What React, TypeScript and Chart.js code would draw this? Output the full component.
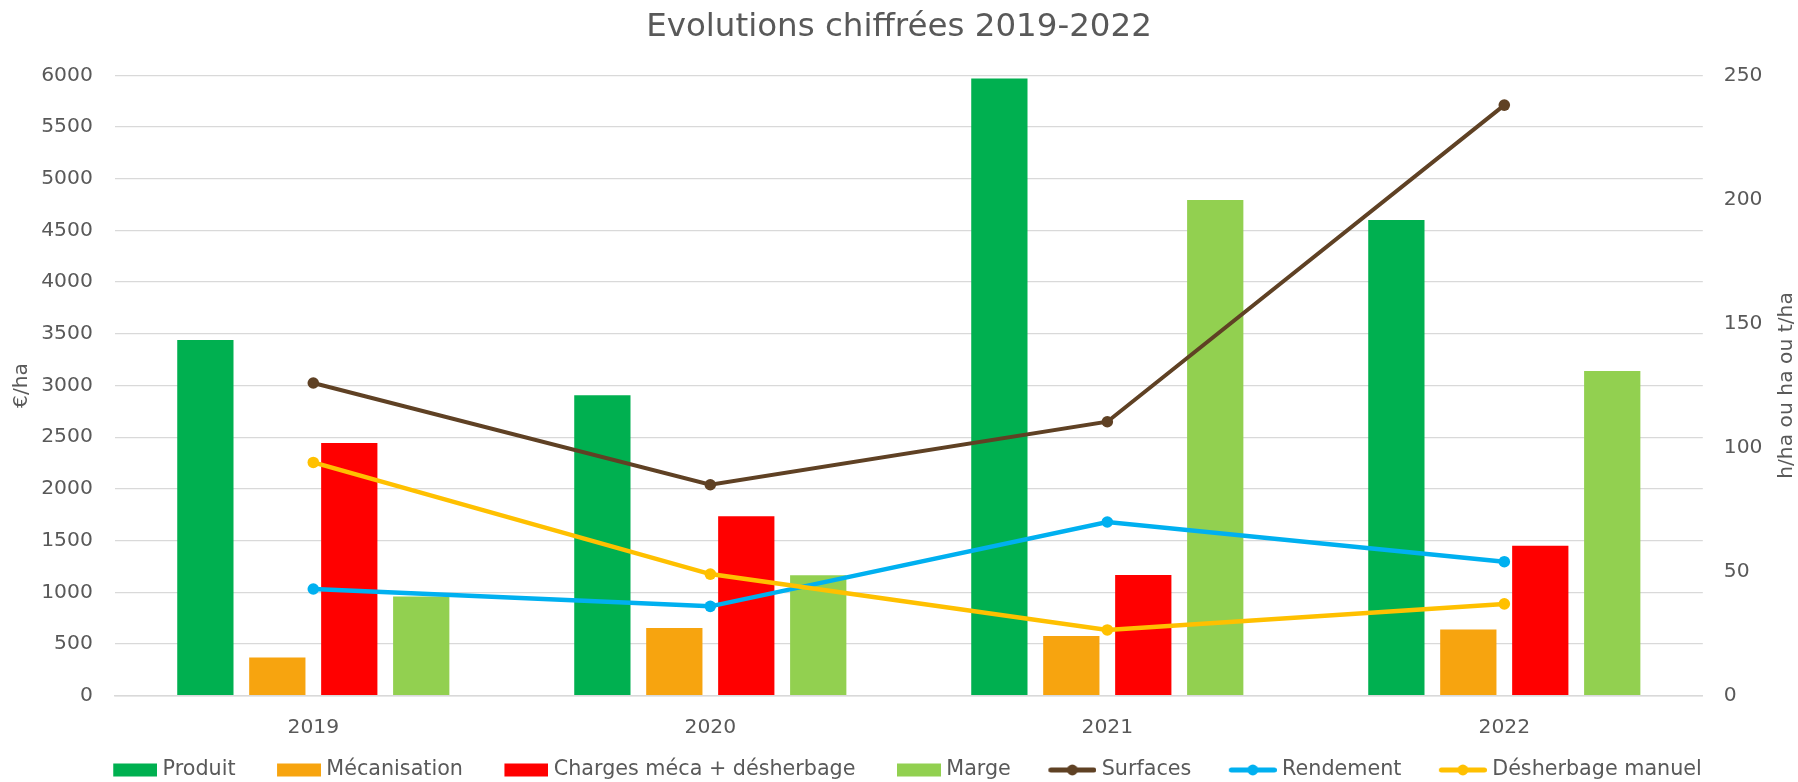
import React, { useEffect, useRef } from "react";
import { Chart, registerables } from "chart.js";

Chart.register(...registerables);

// ---- Data ----
const categories = ["2019", "2020", "2021", "2022"];
const produit = [3440, 2905, 5970, 4600];
const mecanisation = [370, 655, 577, 640];
const charges = [2445, 1735, 1168, 1450];
const marge = [960, 1165, 4795, 3140];
const surfaces = [126, 85, 110.4, 238];
const rendement = [43, 36, 70, 54];
const desherbage = [94, 49, 26.5, 37];

const leftAxis = { min: 0, max: 6000, step: 500 };
const rightAxis = { min: 0, max: 250, step: 50 };

const TITLE = "Evolutions chiffrées 2019-2022";
const LEFT_TITLE = "€/ha";
const RIGHT_TITLE = "h/ha ou ha ou t/ha";

const FONT = "'DejaVu Sans', Verdana, sans-serif";
const TEXT = "#595959";
const GRID = "#D9D9D9";
const FS = 20.3;
const LEG_FS = 20.7;

const barSeries = [
  { label: "Produit", data: produit, color: "#00B050" },
  { label: "Mécanisation", data: mecanisation, color: "#F7A40F" },
  { label: "Charges méca + désherbage", data: charges, color: "#FF0000" },
  { label: "Marge", data: marge, color: "#92D050" },
];
const lineSeries = [
  { label: "Surfaces", data: surfaces, color: "#5F4124", width: 4, order: 3 },
  { label: "Rendement", data: rendement, color: "#00B0F0", width: 4.5, order: 2 },
  { label: "Désherbage manuel", data: desherbage, color: "#FFC000", width: 4.5, order: 1 },
];

const LEG_BW = 56;
const LEG_E = 5;
const LEG_PAD = 24.5;

function makeSwatch(kind: "bar" | "line", color: string): HTMLCanvasElement {
  const c = document.createElement("canvas");
  const iw = LEG_BW + 2 * LEG_E;
  const ih = 20;
  c.width = iw;
  c.height = ih;
  const ctx = c.getContext("2d")!;
  if (kind === "bar") {
    ctx.fillStyle = color;
    ctx.fillRect(iw - 44, (ih - 13) / 2, 44, 13);
  } else {
    ctx.strokeStyle = color;
    ctx.lineWidth = 5;
    ctx.lineCap = "round";
    ctx.beginPath();
    ctx.moveTo(iw - 48 + 2.5, ih / 2);
    ctx.lineTo(iw - 2.5, ih / 2);
    ctx.stroke();
    ctx.fillStyle = color;
    ctx.beginPath();
    ctx.arc(iw - 24, ih / 2, 5.4, 0, Math.PI * 2);
    ctx.fill();
  }
  return c;
}

const rightTitlePlugin = {
  id: "rightTitle",
  afterDraw(chart: any) {
    const { ctx, chartArea } = chart;
    const s = chart.scales.y1;
    ctx.save();
    ctx.translate(s.right - 11.4, (chartArea.top + chartArea.bottom) / 2);
    ctx.rotate(-Math.PI / 2);
    ctx.font = `${FS}px ${FONT}`;
    ctx.fillStyle = TEXT;
    ctx.textAlign = "center";
    ctx.textBaseline = "middle";
    ctx.fillText(RIGHT_TITLE, 0, 0);
    ctx.restore();
  },
};

export default function App() {
  const ref = useRef<HTMLCanvasElement | null>(null);

  useEffect(() => {
    if (!ref.current) return;
    Chart.defaults.font.family = FONT;
    const swatches = [
      ...barSeries.map((b) => makeSwatch("bar", b.color)),
      ...lineSeries.map((l) => makeSwatch("line", l.color)),
    ];
    const datasets: any[] = [
      ...barSeries.map((b) => ({
        type: "bar",
        label: b.label,
        data: b.data,
        backgroundColor: b.color,
        borderWidth: 0,
        yAxisID: "y",
        order: 4,
        categoryPercentage: 0.725,
        barPercentage: 0.782,
      })),
      ...lineSeries.map((l) => ({
        type: "line",
        label: l.label,
        data: l.data,
        borderColor: l.color,
        backgroundColor: l.color,
        borderWidth: l.width,
        pointRadius: 5.8,
        pointHoverRadius: 5.8,
        pointBackgroundColor: l.color,
        pointBorderWidth: 0,
        tension: 0,
        fill: false,
        yAxisID: "y1",
        order: l.order,
      })),
    ];
    const plain = (v: any) => String(v);
    const chart = new Chart(ref.current, {
      type: "bar",
      data: { labels: categories, datasets },
      plugins: [rightTitlePlugin],
      options: {
        animation: false,
        responsive: false,
        devicePixelRatio: 1,
        layout: { padding: { left: 0, right: 0, top: 0, bottom: -8.35 } },
        plugins: {
          tooltip: { enabled: false },
          title: {
            display: true,
            text: TITLE,
            color: TEXT,
            font: { size: 32.5, weight: "normal", family: FONT },
            padding: { top: 8.5, bottom: 27.8 },
          },
          legend: {
            position: "bottom",
            labels: {
              usePointStyle: true,
              pointStyleWidth: LEG_BW,
              padding: LEG_PAD,
              color: TEXT,
              font: { size: LEG_FS, family: FONT },
              generateLabels: (c: any) =>
                c.data.datasets.map((ds: any, i: number) => ({
                  text: ds.label,
                  pointStyle: swatches[i],
                  fillStyle: "rgba(0,0,0,0)",
                  strokeStyle: "rgba(0,0,0,0)",
                  lineWidth: 0,
                  hidden: false,
                  datasetIndex: i,
                  fontColor: TEXT,
                })),
            },
          },
        },
        scales: {
          x: {
            grid: { display: false },
            border: { display: true, color: GRID, width: 1.5 },
            ticks: { color: TEXT, font: { size: FS }, padding: 12 },
            afterFit: (s: any) => {
              s.height = 39.45;
            },
          },
          y: {
            position: "left",
            min: leftAxis.min,
            max: leftAxis.max,
            ticks: { stepSize: leftAxis.step, color: TEXT, font: { size: FS }, padding: 22, callback: plain },
            grid: { color: GRID, lineWidth: 1.3, drawTicks: false },
            border: { display: false },
            title: {
              display: true,
              text: LEFT_TITLE,
              color: TEXT,
              font: { size: FS },
              padding: { top: 10, bottom: 0 },
            },
            afterFit: (s: any) => {
              s.width = 114.8;
            },
          },
          y1: {
            position: "right",
            min: rightAxis.min,
            max: rightAxis.max,
            ticks: { stepSize: rightAxis.step, color: TEXT, font: { size: FS }, padding: 21, callback: plain },
            grid: { drawOnChartArea: false, drawTicks: false },
            border: { display: false },
            afterFit: (s: any) => {
              s.width = 95.2;
            },
          },
        },
      } as any,
    });
    return () => chart.destroy();
  }, []);

  return (
    <div style={{ position: "fixed", left: 0, top: 0, width: 1798, height: 782, background: "#fff" }}>
      <canvas ref={ref} width={1798} height={782} />
    </div>
  );
}
